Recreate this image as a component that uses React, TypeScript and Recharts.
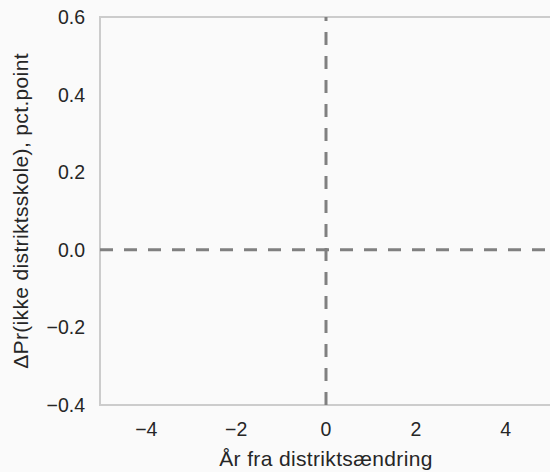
import { LineChart, XAxis, YAxis, ReferenceLine, ReferenceArea } from 'recharts';

const xTicks = [-4, -2, 0, 2, 4];
const yTicks = [-0.4, -0.2, 0, 0.2, 0.4, 0.6];
const xDomain = [-5.03, 5.03];
const yDomain = [-0.4, 0.6];
const zeroX = 0;
const zeroY = 0;

const FONT = '"Liberation Sans", Arial, sans-serif';
const TEXT = '#262626';
const FRAME = '#cccccc';
const DASH = '#808080';

const fmtY = (v: number) => (v < 0 ? '\u2212' : '') + Math.abs(v).toFixed(1);
const fmtX = (v: number) => (v < 0 ? '\u2212' : '') + Math.abs(v);

function YLabel(props: any) {
    const vb = props.viewBox;
    const x = vb.x + 20;
    const y = vb.y + vb.height / 2;
    return (
        <text x={x} y={y} transform={`rotate(-90 ${x} ${y})`} textAnchor="middle" dominantBaseline="central"
            fill={TEXT} fontSize={21} letterSpacing={0.35} fontFamily={FONT}>
            ΔPr(ikke distriktsskole), pct.point
        </text>
    );
}

function XLabel(props: any) {
    const vb = props.viewBox;
    return (
        <text x={vb.x + vb.width / 2} y={vb.y + 61} textAnchor="middle" fill={TEXT} fontSize={21}
            letterSpacing={0.35} fontFamily={FONT}>
            År fra distriktsændring
        </text>
    );
}

export default function App() {
    return (
        <div style={{ position: 'absolute', left: 0, top: 0, width: 550, height: 472, overflow: 'hidden', background: '#fafafa' }}>
            <LineChart width={560} height={472} data={[]} margin={{ top: 17, right: 8, left: 0, bottom: 0 }}>
                <XAxis
                    type="number"
                    dataKey="x"
                    domain={xDomain}
                    ticks={xTicks}
                    tickFormatter={fmtX}
                    allowDataOverflow
                    height={67}
                    axisLine={false}
                    tickLine={false}
                    tickSize={6}
                    tickMargin={11}
                    tick={{ fill: TEXT, fontSize: 19.5, fontFamily: FONT }}
                    label={<XLabel />}
                />
                <YAxis
                    type="number"
                    domain={yDomain}
                    ticks={yTicks}
                    tickFormatter={fmtY}
                    allowDataOverflow
                    width={100}
                    axisLine={false}
                    tickLine={false}
                    tickSize={6}
                    tickMargin={9}
                    tick={{ fill: TEXT, fontSize: 19.5, fontFamily: FONT }}
                    label={<YLabel />}
                />
                <ReferenceArea x1={xDomain[0]} x2={xDomain[1]} y1={yDomain[0]} y2={yDomain[1]}
                    fill="none" stroke={FRAME} strokeWidth={2} />
                <ReferenceLine x={zeroX} stroke={DASH} strokeWidth={3} strokeDasharray="13 11" />
                <ReferenceLine y={zeroY} stroke={DASH} strokeWidth={3} strokeDasharray="13 11" />
            </LineChart>
        </div>
    );
}
